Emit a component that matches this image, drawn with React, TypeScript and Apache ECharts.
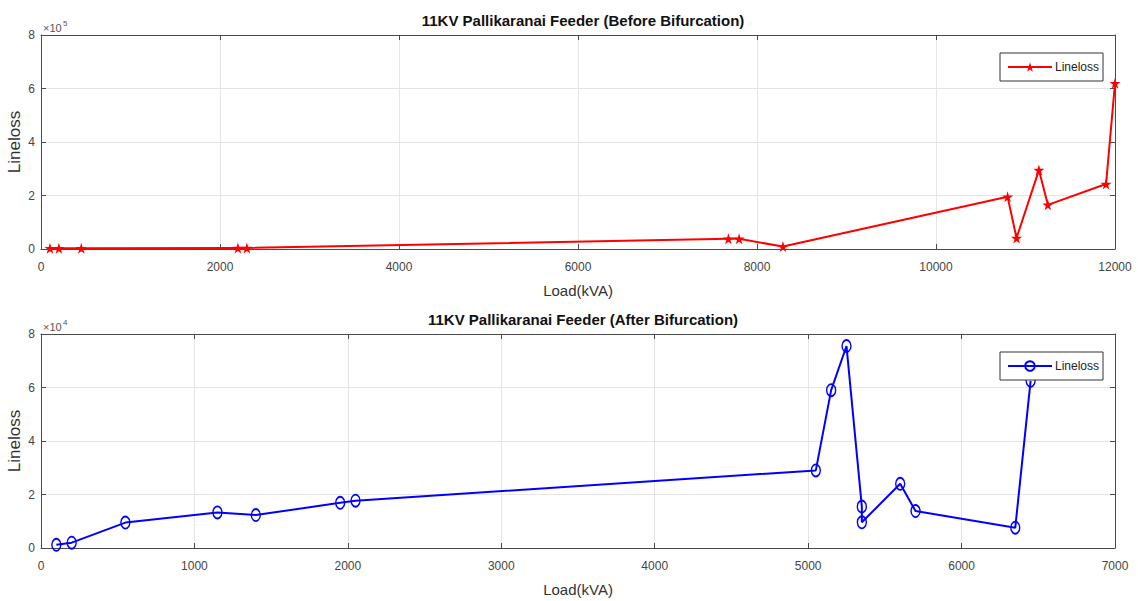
import React, { useEffect, useRef } from "react";
import * as echarts from "echarts";

const beforeLoad = [100, 200, 450, 2200, 2300, 7680, 7800, 8290, 10800, 10900, 11150, 11250, 11900, 12000];
const beforeLoss = [3000, 3000, 3000, 4000, 4000, 38000, 38000, 9000, 195000, 41000, 295000, 165000, 243000, 620000];

const afterLoad = [100, 200, 550, 1150, 1400, 1950, 2050, 5050, 5150, 5250, 5350, 5350, 5600, 5700, 6350, 6450];
const afterLoss = [1200, 2000, 9500, 13300, 12300, 16900, 17700, 29000, 59000, 75500, 15500, 9600, 24000, 13800, 7600, 62500];

const STAR = "path://M50,0 L61,35 L98,35 L68,57 L79,91 L50,70 L21,91 L32,57 L2,35 L39,35 Z";
const FONT = "Liberation Sans, Arial, sans-serif";

interface PanelCfg {
  title: string;
  xMax: number;
  xInterval: number;
  yMax: number;
  yInterval: number;
  yScale: number;
  exp: string;
  load: number[];
  loss: number[];
  color: string;
  symbol: string;
  symbolSize: number | number[];
  hollow: boolean;
}

function makeOption(c: PanelCfg): any {
  const axisLine = { show: true, onZero: false, lineStyle: { color: "#4a4a4a", width: 1 } };
  const tick = { show: true, inside: true, length: 5, lineStyle: { color: "#4a4a4a" } };
  const grid = { show: true, lineStyle: { color: "#e4e4e4", width: 1 } };
  return {
    animation: false,
    textStyle: { fontFamily: FONT },
    title: {
      text: c.title,
      left: 578,
      top: 8,
      textAlign: "center",
      textStyle: { fontSize: 15, fontWeight: "bold", color: "#111", fontFamily: FONT },
    },
    grid: {
      left: 41,
      top: 35,
      width: 1074,
      height: 214,
      show: false,
      containLabel: false,
      outerBoundsMode: "none",
    },
    legend: {
      data: ["Lineloss"],
      left: 1000,
      top: 53,
      orient: "horizontal",
      backgroundColor: "#fff",
      borderColor: "#333",
      borderWidth: 1,
      borderRadius: 0,
      padding: [8, 4, 8, 7],
      itemWidth: 44,
      itemHeight: 12,
      itemGap: 2,
      textStyle: { fontSize: 12, color: "#222", fontFamily: FONT, padding: [0, 0, 0, -2] },
    },
    xAxis: [
      {
        type: "value",
        min: 0,
        max: c.xMax,
        interval: c.xInterval,
        position: "bottom",
        axisLine,
        axisTick: tick,
        splitLine: grid,
        axisLabel: {
          color: "#444",
          fontSize: 12,
          margin: 12,
          fontFamily: FONT,
          formatter: (v: number) => String(v),
        },
        name: "Load(kVA)",
        nameLocation: "middle",
        nameGap: 34,
        nameTextStyle: { fontSize: 15, color: "#333", fontFamily: FONT },
      },
      {
        type: "value",
        min: 0,
        max: c.xMax,
        interval: c.xInterval,
        position: "top",
        axisLine,
        axisTick: tick,
        splitLine: { show: false },
        axisLabel: { show: false },
      },
    ],
    yAxis: [
      {
        type: "value",
        min: 0,
        max: c.yMax,
        interval: c.yInterval,
        position: "left",
        axisLine,
        axisTick: tick,
        splitLine: grid,
        axisLabel: {
          color: "#444",
          fontSize: 12,
          margin: 6,
          fontFamily: FONT,
          formatter: (v: number) => String(Math.round(v / c.yScale)),
        },
        name: "Lineloss",
        nameLocation: "middle",
        nameGap: 18,
        nameMoveOverlap: false,
        nameRotate: 90,
        nameTextStyle: { fontSize: 17, color: "#333", fontFamily: FONT },
      },
      {
        type: "value",
        min: 0,
        max: c.yMax,
        interval: c.yInterval,
        position: "right",
        axisLine,
        axisTick: tick,
        splitLine: { show: false },
        axisLabel: { show: false },
      },
    ],
    graphic: [
      {
        type: "text",
        left: 43,
        top: 22,
        style: { text: "×10", fontSize: 11, fill: "#555", fontFamily: FONT },
      },
      {
        type: "text",
        left: 63,
        top: 19,
        style: { text: c.exp, fontSize: 8, fill: "#555", fontFamily: FONT },
      },
    ],
    series: [
      {
        name: "Lineloss",
        type: "line",
        xAxisIndex: 0,
        yAxisIndex: 0,
        data: c.load.map((x, i) => [x, c.loss[i]]),
        symbol: c.symbol,
        symbolSize: c.symbolSize,
        showAllSymbol: true,
        clip: false,
        lineStyle: { color: c.color, width: 2 },
        itemStyle: c.hollow
          ? { color: "rgba(255,255,255,0)", borderColor: c.color, borderWidth: 1.6 }
          : { color: c.color, borderColor: c.color, borderWidth: 0 },
      },
    ],
  };
}

const topCfg: PanelCfg = {
  title: "11KV Pallikaranai Feeder (Before Bifurcation)",
  xMax: 12000,
  xInterval: 2000,
  yMax: 800000,
  yInterval: 200000,
  yScale: 100000,
  exp: "5",
  load: beforeLoad,
  loss: beforeLoss,
  color: "#ff0000",
  symbol: STAR,
  symbolSize: 11,
  hollow: false,
};

const bottomCfg: PanelCfg = {
  title: "11KV Pallikaranai Feeder (After Bifurcation)",
  xMax: 7000,
  xInterval: 1000,
  yMax: 80000,
  yInterval: 20000,
  yScale: 10000,
  exp: "4",
  load: afterLoad,
  loss: afterLoss,
  color: "#0000ff",
  symbol: "circle",
  symbolSize: [9, 12],
  hollow: true,
};

function Panel({ cfg, top, height }: { cfg: PanelCfg; top: number; height: number }) {
  const ref = useRef<HTMLDivElement>(null);
  useEffect(() => {
    if (!ref.current) return;
    const chart = echarts.init(ref.current, undefined, { renderer: "svg" });
    chart.setOption(makeOption(cfg));
    return () => chart.dispose();
  }, [cfg]);
  return (
    <div
      ref={ref}
      style={{ position: "absolute", left: 0, top, width: 1138, height }}
    />
  );
}

export default function App() {
  return (
    <div
      style={{
        position: "fixed",
        left: 0,
        top: 0,
        width: 1138,
        height: 601,
        background: "#fff",
        overflow: "hidden",
      }}
    >
      <Panel cfg={topCfg} top={0} height={300} />
      <Panel cfg={bottomCfg} top={299} height={302} />
    </div>
  );
}
